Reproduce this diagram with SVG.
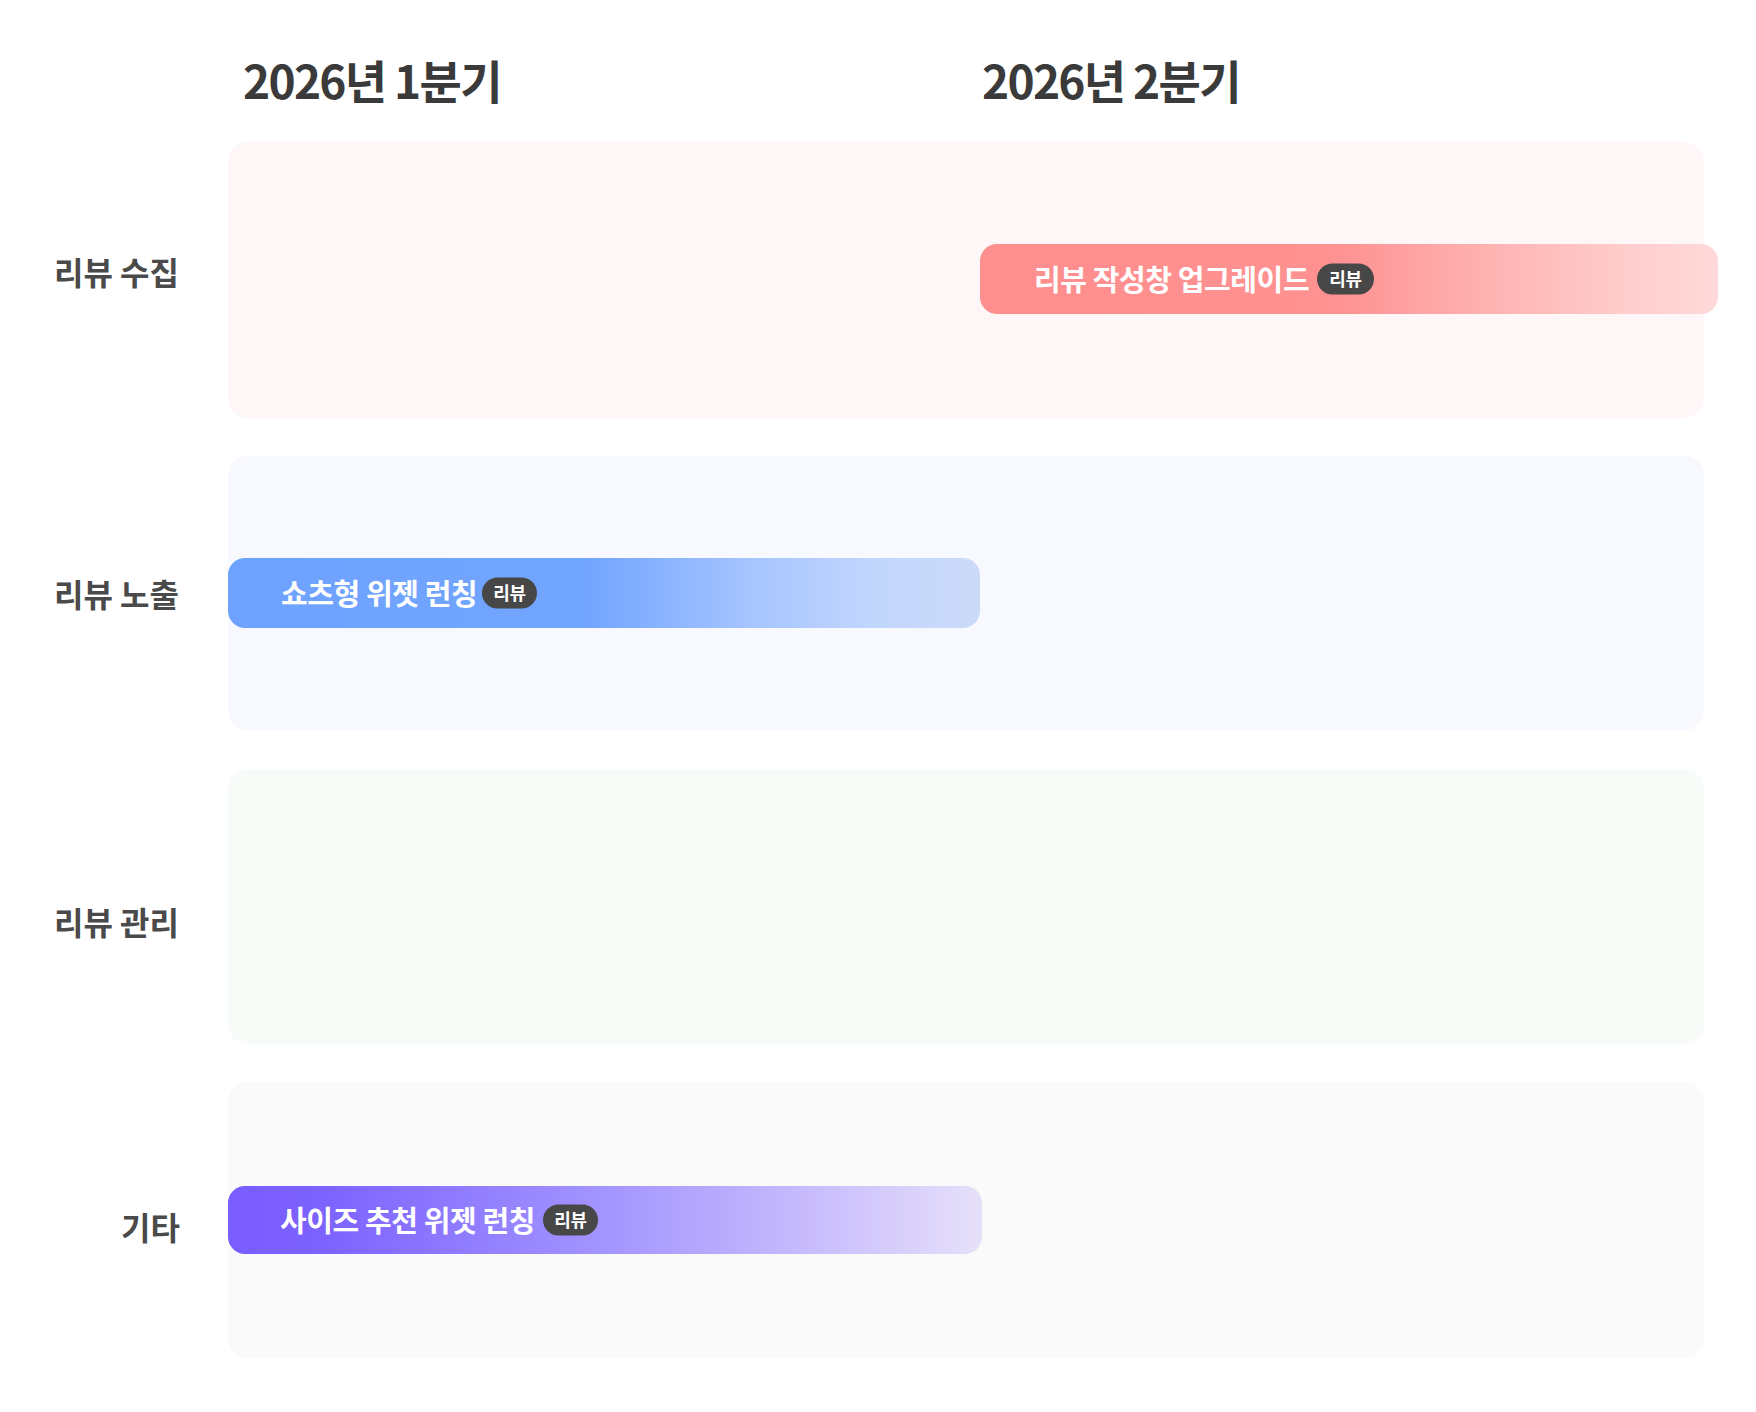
<svg xmlns="http://www.w3.org/2000/svg" width="1756" height="1412" viewBox="0 0 1756 1412">
  <defs>
    <style>
      .hdr { font-family: "Noto Sans CJK KR", "Noto Sans", sans-serif; font-weight: 700; font-size: 46px; fill: #3a3a3a; letter-spacing: -1.7px; }
      .lbl { font-family: "Noto Sans CJK KR", "Noto Sans", sans-serif; font-weight: 700; font-size: 32px; fill: #4a4a4a; text-anchor: end; }
      .bar-t { font-family: "Noto Sans CJK KR", "Noto Sans", sans-serif; font-weight: 700; font-size: 29px; fill: #ffffff; letter-spacing: -0.4px; }
      .pill { fill: #474747; }
      .pill-t { font-family: "Noto Sans CJK KR", "Noto Sans", sans-serif; font-weight: 600; font-size: 18px; fill: #ffffff; text-anchor: middle; letter-spacing: -0.3px; }
    </style>
    <linearGradient id="gRed" x1="0" y1="0" x2="1" y2="0">
      <stop offset="0" stop-color="#ff8e8e"/>
      <stop offset="0.48" stop-color="#ff9191"/>
      <stop offset="0.7" stop-color="#ffb4b4"/>
      <stop offset="0.88" stop-color="#ffcdcd"/>
      <stop offset="1" stop-color="#ffd9d9"/>
    </linearGradient>
    <linearGradient id="gBlue" x1="0" y1="0" x2="1" y2="0">
      <stop offset="0" stop-color="#6ea2ff"/>
      <stop offset="0.48" stop-color="#72a5ff"/>
      <stop offset="0.7" stop-color="#a7c5ff"/>
      <stop offset="0.86" stop-color="#c2d6fd"/>
      <stop offset="1" stop-color="#ccdaf9"/>
    </linearGradient>
    <linearGradient id="gPurple" x1="0" y1="0" x2="1" y2="0">
      <stop offset="0" stop-color="#7a5cff"/>
      <stop offset="0.12" stop-color="#7c62ff"/>
      <stop offset="0.5" stop-color="#a395ff"/>
      <stop offset="0.78" stop-color="#c9bdfd"/>
      <stop offset="1" stop-color="#e6e0fa"/>
    </linearGradient>
  </defs>

  <rect width="1756" height="1412" fill="#ffffff"/>

  <g id="headers">
    <text class="hdr" x="243" y="99">2026년 1분기</text>
    <text class="hdr" x="982" y="99">2026년 2분기</text>
  </g>

  <g id="lane-collect">
    <rect x="228" y="142" width="1476" height="276" rx="20" fill="#fff7f7"/>
    <text class="lbl" x="179" y="285">리뷰 수집</text>
  </g>
  <g id="lane-expose">
    <rect x="228" y="455.5" width="1476" height="275" rx="20" fill="#f8f9ff"/>
    <text class="lbl" x="179" y="607">리뷰 노출</text>
  </g>
  <g id="lane-manage">
    <rect x="228" y="769" width="1476" height="275" rx="20" fill="#f7fcf9"/>
    <text class="lbl" x="179" y="935">리뷰 관리</text>
  </g>
  <g id="lane-etc">
    <rect x="228" y="1082" width="1476" height="276" rx="20" fill="#fafafa"/>
    <text class="lbl" x="180" y="1240">기타</text>
  </g>

  <g id="bar-review-write">
    <rect x="980" y="244" width="738" height="70" rx="17" fill="url(#gRed)"/>
    <text class="bar-t" x="1034" y="291">리뷰 작성창 업그레이드</text>
    <rect class="pill" x="1317" y="263.5" width="57" height="31" rx="15.5"/>
    <text class="pill-t" x="1345.5" y="285.5">리뷰</text>
  </g>

  <g id="bar-shorts-widget">
    <rect x="228" y="558" width="752" height="70" rx="17" fill="url(#gBlue)"/>
    <text class="bar-t" x="281" y="605">쇼츠형 위젯 런칭</text>
    <rect class="pill" x="482" y="577.5" width="55" height="31" rx="15.5"/>
    <text class="pill-t" x="509.5" y="599.5">리뷰</text>
  </g>

  <g id="bar-size-widget">
    <rect x="228" y="1186" width="754" height="68" rx="17" fill="url(#gPurple)"/>
    <text class="bar-t" x="280" y="1232">사이즈 추천 위젯 런칭</text>
    <rect class="pill" x="543" y="1204.5" width="55" height="31" rx="15.5"/>
    <text class="pill-t" x="570.5" y="1226.5">리뷰</text>
  </g>

  <g id="connectors"/>
</svg>
